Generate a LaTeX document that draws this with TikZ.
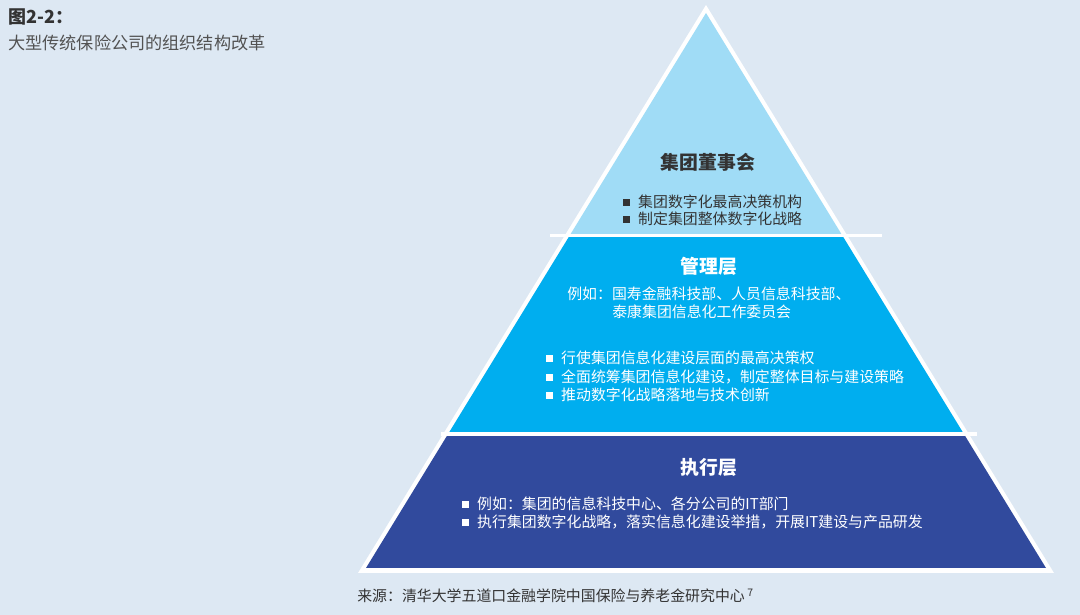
\documentclass[tikz,border=0pt]{standalone}
\usepackage{fontspec}
\setmainfont{Noto Sans CJK SC}
\usepackage{xcolor}
\definecolor{pagebg}{HTML}{DDE8F3}
\definecolor{toplayer}{HTML}{A0DCF6}
\definecolor{midlayer}{HTML}{00AEEF}
\definecolor{lowlayer}{HTML}{314A9D}
\definecolor{inktext}{HTML}{333333}
\newcommand{\sqbullet}{\rule[0.12em]{0.45em}{0.45em}\hspace{0.55em}}
\tikzset{
  layertitle/.style={font=\fontsize{13.4}{15}\selectfont\bfseries},
  itemtext/.style={anchor=west,font=\fontsize{10.6}{12}\selectfont,inner sep=0pt},
}

\begin{document}
\begin{tikzpicture}[x=0.025cm,y=-0.025cm]
\useasboundingbox (0,0) rectangle (1080,615);
\fill[pagebg] (0,0) rectangle (1080,615);
% caption
\node[anchor=west,inner sep=0pt,inktext,font=\fontsize{12.8}{14}\selectfont\bfseries] (figno) at (8,17) {图2-2：};
\node[anchor=west,inner sep=0pt,inktext!85,font=\fontsize{12.2}{14}\selectfont] (figtitle) at (8,43) {大型传统保险公司的组织结构改革};
% pyramid
\fill[white] (706,5) -- (1054,573) -- (358,573) -- cycle;
\begin{scope}
\clip (706,13) -- (1046,568) -- (366,568) -- cycle;
\fill[toplayer] (300,0) rectangle (1100,235.5);
\fill[midlayer] (300,235.5) rectangle (1100,434);
\fill[lowlayer] (300,434) rectangle (1100,600);
\end{scope}
\draw[white,line width=2.2pt] (550,235.5) -- (882,235.5);
\draw[white,line width=2.2pt] (441,434) -- (977,434);
% top layer
\node[layertitle,text=inktext] (board) at (708,162) {集团董事会};
\node[itemtext,text=inktext] (board1) at (623,202) {\sqbullet 集团数字化最高决策机构};
\node[itemtext,text=inktext] (board2) at (623,219) {\sqbullet 制定集团整体数字化战略};
% middle layer
\node[layertitle,text=white] (mgmt) at (709,266) {管理层};
\node[itemtext,text=white] (mgmtex1) at (567,294) {例如：国寿金融科技部、人员信息科技部、};
\node[itemtext,text=white] (mgmtex2) at (612,312) {泰康集团信息化工作委员会};
\node[itemtext,text=white] (mgmt1) at (546,358) {\sqbullet 行使集团信息化建设层面的最高决策权};
\node[itemtext,text=white] (mgmt2) at (546,377) {\sqbullet 全面统筹集团信息化建设，制定整体目标与建设策略};
\node[itemtext,text=white] (mgmt3) at (546,395) {\sqbullet 推动数字化战略落地与技术创新};
% bottom layer
\node[layertitle,text=white] (exec) at (709,467) {执行层};
\node[itemtext,text=white] (exec1) at (462,504) {\sqbullet 例如：集团的信息科技中心、各分公司的IT部门};
\node[itemtext,text=white] (exec2) at (462,522) {\sqbullet 执行集团数字化战略，落实信息化建设举措，开展IT建设与产品研发};
% source
\node[itemtext,text=inktext] (source) at (357,596) {来源：清华大学五道口金融学院中国保险与养老金研究中心\,\textsuperscript{7}};
\end{tikzpicture}
\end{document}
